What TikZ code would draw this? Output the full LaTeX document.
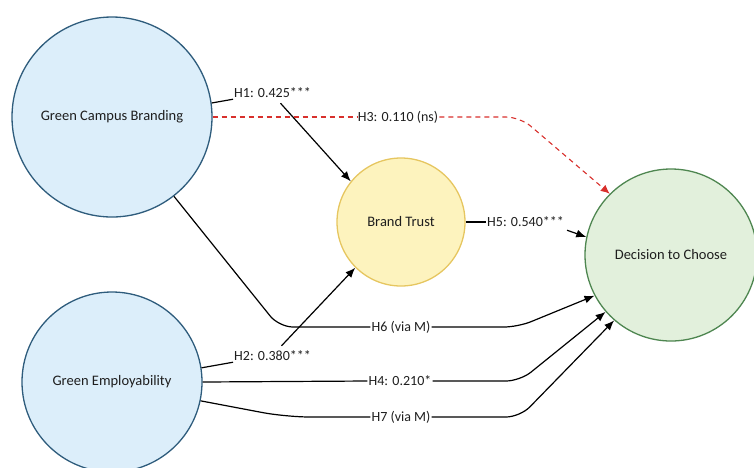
\documentclass[tikz,border=0pt]{standalone}
\usepackage{fontspec}
\setmainfont{Carlito}
\usepackage{xcolor}
\usetikzlibrary{arrows.meta,positioning}

\definecolor{blueFill}{HTML}{DCEEFA}
\definecolor{blueLine}{HTML}{2E5C7C}
\definecolor{yellowFill}{HTML}{FDF3BE}
\definecolor{yellowLine}{HTML}{E6C660}
\definecolor{greenFill}{HTML}{E2F0DC}
\definecolor{greenLine}{HTML}{4E8650}
\definecolor{nsRed}{HTML}{D8302C}
\definecolor{txt}{HTML}{1E1E1E}

\begin{document}
\begin{tikzpicture}[
    x=1pt, y=-1pt,
    construct/.style={circle, draw, line width=1.3pt, align=center, text=txt,
                font=\fontsize{14.5}{17}\selectfont, inner sep=0pt},
    lbl/.style={inner sep=1pt, text=txt, font=\fontsize{14}{16}\selectfont},
    link/.style={line width=1.2pt, rounded corners=14pt},
    arrow/.style={-{Latex[length=10pt,width=8pt]}, line width=1.2pt, rounded corners=14pt},
    nslink/.style={line width=1.1pt, nsRed, dash pattern=on 5pt off 4pt, rounded corners=14pt},
    nsarrow/.style={nslink, -{Latex[length=9pt,width=8pt]}}
  ]
    \useasboundingbox (0,0) rectangle (754,467);

    \node[construct, fill=blueFill, draw=blueLine, minimum size=200pt] (gcb) at (112,117) {Green Campus Branding};
    \node[construct, fill=blueFill, draw=blueLine, minimum size=180pt] (ge) at (112,382) {Green Employability};
    \node[construct, fill=yellowFill, draw=yellowLine, minimum size=128pt] (bt) at (401,222) {Brand Trust};
    \node[construct, fill=greenFill, draw=greenLine, minimum size=172pt] (dc) at (671,255) {Decision to Choose};

    \node[lbl, anchor=west] (h1) at (233,93) {H1: 0.425***};
    \node[lbl, anchor=west] (h2) at (233,356) {H2: 0.380***};
    \node[lbl] (h3) at (398,117) {H3: 0.110 (ns)};
    \node[lbl] (h4) at (400,381) {H4: 0.210*};
    \node[lbl, anchor=west] (h5) at (486,222) {H5: 0.540***};
    \node[lbl] (h6) at (401,327) {H6 (via M)};
    \node[lbl] (h7) at (401,417) {H7 (via M)};

    \coordinate (h3k) at (520,117);
    \coordinate (h6a) at (279,327);
    \coordinate (h6k) at (518,327);
    \coordinate (h4k) at (520,381);
    \coordinate (h7a) at (286,417);
    \coordinate (h7k) at (520,417);

    \draw[link] (gcb.8.5) -- (h1.south west);
    \draw[arrow] ([xshift=8pt,yshift=-4pt]h1.south) -- (bt.141);

    \draw[link] (ge.9.5) -- (h2.south west);
    \draw[arrow] ([xshift=9pt,yshift=4pt]h2.north) -- (bt.225);

    \draw[nslink] (gcb.east) -- (h3.west);
    \draw[nsarrow] (h3.east) -- (h3k) -- (dc.135);

    \draw[link] (bt.east) -- (h5.west);
    \draw[arrow] ([xshift=2pt,yshift=-2pt]h5.south east) -- (dc.168);

    \draw[link] (gcb.-52) -- (h6a) -- (h6.west);
    \draw[arrow] (h6.east) -- (h6k) -- (dc.208);

    \draw[link] (ge.east) -- (h4.west);
    \draw[arrow] (h4.east) -- (h4k) -- (dc.221);

    \draw[link, rounded corners=24pt] (ge.-12.5) -- (h7a) -- (h7.west);
    \draw[arrow] (h7.east) -- (h7k) -- (dc.229);
  \end{tikzpicture}
\end{document}
